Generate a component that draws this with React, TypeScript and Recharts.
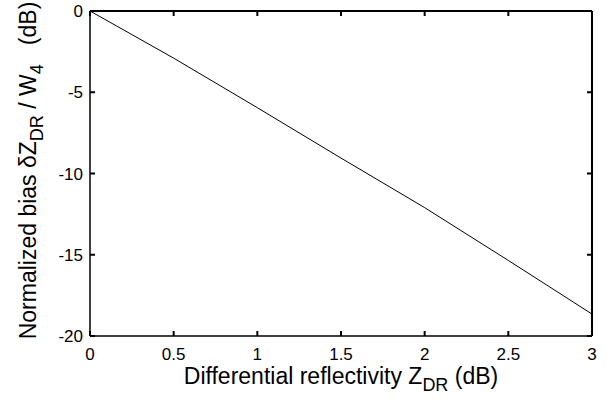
import React from 'react';
import { LineChart, Line, XAxis, YAxis, Label, ReferenceLine } from 'recharts';

const zdrValues = [0, 0.5, 1, 1.5, 2, 2.5, 3];
const biasValues = [0, -2.9, -5.95, -9.05, -12.1, -15.35, -18.65];
const xTicks = [0, 0.5, 1, 1.5, 2, 2.5, 3];
const yTicks = [-20, -15, -10, -5, 0];

const data = zdrValues.map((x, i) => ({ x, y: biasValues[i] }));

const W = 606;
const H = 402;
const MARGIN = { top: 11, right: 14, bottom: 6, left: 30 };
const X_TICK_MARGIN = 12;
const Y_TICK_MARGIN = 7;
const TICK_LEN = 5;
const FRAME = '#000000';
const FRAME_W = 2;

const FONT = '"Liberation Sans", Arial, Helvetica, sans-serif';
const TICK_FONT = 17;
const LABEL_FONT = 23;
const SUB_FONT = 18;

const XTick = (props: any) => {
  const { x, y, payload } = props;
  const axisY = y - X_TICK_MARGIN;
  const top = MARGIN.top;
  return (
    <g>
      <line x1={x} x2={x} y1={axisY} y2={axisY - TICK_LEN} stroke={FRAME} strokeWidth={FRAME_W} />
      <line x1={x} x2={x} y1={top} y2={top + TICK_LEN} stroke={FRAME} strokeWidth={FRAME_W} />
      <text x={x} y={y} dy="0.71em" textAnchor="middle" fontFamily={FONT} fontSize={TICK_FONT} fill="#000">
        {String(payload.value)}
      </text>
    </g>
  );
};

const YTick = (props: any) => {
  const { x, y, payload } = props;
  const axisX = x + Y_TICK_MARGIN;
  const right = W - MARGIN.right;
  return (
    <g>
      <line x1={axisX} x2={axisX + TICK_LEN} y1={y} y2={y} stroke={FRAME} strokeWidth={FRAME_W} />
      <line x1={right} x2={right - TICK_LEN} y1={y} y2={y} stroke={FRAME} strokeWidth={FRAME_W} />
      <text x={x} y={y} dy="0.355em" textAnchor="end" fontFamily={FONT} fontSize={TICK_FONT} fill="#000">
        {String(payload.value)}
      </text>
    </g>
  );
};

const XLabel = (props: any) => {
  const vb = props.viewBox || {};
  const cx = vb.x + vb.width / 2;
  const y = vb.y + 48;
  return (
    <text x={cx} y={y} textAnchor="middle" fontFamily={FONT} fontSize={LABEL_FONT} fill="#000">
      <tspan>Differential reflectivity Z</tspan>
      <tspan fontSize={SUB_FONT} dy={7}>DR</tspan>
      <tspan dy={-7}> (dB)</tspan>
    </text>
  );
};

const YLabel = (props: any) => {
  const vb = props.viewBox || {};
  const x = vb.x + 6;
  const cy = vb.y + vb.height / 2 - 3;
  return (
    <text
      x={x}
      y={cy}
      transform={`rotate(-90, ${x}, ${cy})`}
      textAnchor="middle"
      fontFamily={FONT}
      fontSize={LABEL_FONT}
      fill="#000"
      style={{ whiteSpace: 'pre' }}
    >
      <tspan>Normalized bias δZ</tspan>
      <tspan fontSize={SUB_FONT} dy={7}>DR</tspan>
      <tspan dy={-7}> / W</tspan>
      <tspan fontSize={SUB_FONT} dy={7}>4</tspan>
      <tspan dy={-7}>{'   (dB)'}</tspan>
    </text>
  );
};

export default function App() {
  return (
    <div style={{ position: 'absolute', left: 0, top: 0, width: W, height: H, background: '#fff' }}>
      <LineChart width={W} height={H} data={data} margin={MARGIN}>
        <XAxis
          dataKey="x"
          type="number"
          domain={[0, 3]}
          ticks={xTicks}
          interval={0}
          height={60}
          tickSize={0}
          tickMargin={X_TICK_MARGIN}
          axisLine={{ stroke: FRAME, strokeWidth: 1.5 }}
          tickLine={false}
          tick={XTick}
          allowDecimals
        >
          <Label content={<XLabel />} />
        </XAxis>
        <YAxis
          type="number"
          domain={[-20, 0]}
          ticks={yTicks}
          interval={0}
          width={60}
          tickSize={0}
          tickMargin={Y_TICK_MARGIN}
          axisLine={{ stroke: FRAME, strokeWidth: 1.5 }}
          tickLine={false}
          tick={YTick}
        >
          <Label content={<YLabel />} />
        </YAxis>
        <ReferenceLine y={0} stroke={FRAME} strokeWidth={FRAME_W} ifOverflow="visible" />
        <ReferenceLine x={3} stroke={FRAME} strokeWidth={FRAME_W} ifOverflow="visible" />
        <Line
          type="linear"
          dataKey="y"
          stroke="#000"
          strokeWidth={1}
          dot={false}
          isAnimationActive={false}
        />
      </LineChart>
    </div>
  );
}
